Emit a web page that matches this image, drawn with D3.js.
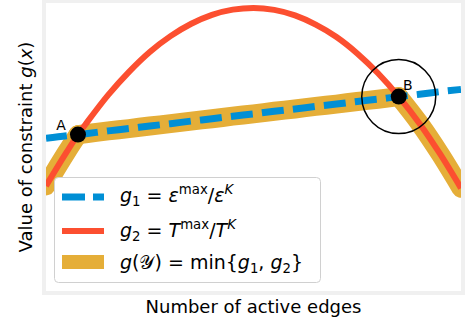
<!DOCTYPE html>
<html>
<head>
<meta charset="utf-8">
<script src="https://cdnjs.cloudflare.com/ajax/libs/d3/7.8.5/d3.min.js"></script>
<style>
  body { margin: 0; background: #fff; }
  svg { display: block; font-family: "DejaVu Sans", sans-serif; }
  text { white-space: pre; }
</style>
</head>
<body>
<div id="chart"></div>
<script>
// number of active edges (no units shown), A and B are at 0.77 and 8.5
var edges = [0, 0.5, 0.77, 1, 1.5, 2, 2.5, 3, 3.5, 4, 4.5, 5, 5.5, 6, 6.5, 7, 7.5, 8, 8.5, 9, 9.5, 10];
// g1 = eps_max / eps_K  (dashed blue)
var g1 = [5.30, 5.39, 5.43, 5.47, 5.56, 5.64, 5.73, 5.81, 5.90, 5.98, 6.07, 6.15, 6.24, 6.32, 6.41, 6.49, 6.58, 6.66, 6.75, 6.83, 6.92, 7.00];
// g2 = T_max / T_K  (red)
var g2 = [3.65, 4.83, 5.43, 5.88, 6.81, 7.61, 8.30, 8.85, 9.28, 9.59, 9.77, 9.83, 9.76, 9.57, 9.25, 8.82, 8.25, 7.56, 6.75, 5.82, 4.75, 3.57];
var marked = [{name: "A", i: 2}, {name: "B", i: 18}];

var width = 466, height = 327;
var box = {left: 46, right: 461, top: 3, bottom: 291};

var svg = d3.select("#chart").append("svg")
    .attr("width", width)
    .attr("height", height);

var x = d3.scaleLinear().domain([0, 10]).range([box.left, box.right]);
var y = d3.scaleLinear().domain([0, 10]).range([box.bottom, box.top]);

svg.append("defs").append("clipPath").attr("id", "plotclip")
  .append("rect")
    .attr("x", box.left).attr("y", box.top)
    .attr("width", box.right - box.left).attr("height", box.bottom - box.top);

var plot = svg.append("g").attr("clip-path", "url(#plotclip)");

var line = d3.line()
    .x(function(d) { return x(d.x); })
    .y(function(d) { return y(d.y); })
    .curve(d3.curveMonotoneX);

function pts(vals) {
  return edges.map(function(e, i) { return {x: e, y: vals[i]}; });
}

// lower envelope, split where the active constraint changes
var env = edges.map(function(e, i) {
  return {x: e, y: Math.min(g1[i], g2[i]), tie: g1[i] === g2[i]};
});
var runs = [], cur = [];
env.forEach(function(p) {
  cur.push(p);
  if (p.tie) { runs.push(cur); cur = [p]; }
});
runs.push(cur);

plot.selectAll(".env")
    .data(runs)
  .enter().append("path")
    .attr("class", "env")
    .attr("d", line)
    .style("fill", "none")
    .style("stroke", "#e5ae38")
    .style("stroke-width", 19)
    .style("stroke-linecap", "round");

plot.append("path")
    .attr("d", line(pts(g1)))
    .style("fill", "none")
    .style("stroke", "#008fd5")
    .style("stroke-width", 7)
    .style("stroke-dasharray", "22,9.2")
    .style("stroke-dashoffset", 1);

plot.append("path")
    .attr("d", line(pts(g2)))
    .style("fill", "none")
    .style("stroke", "#fc4f30")
    .style("stroke-width", 6);

// frame
svg.append("rect")
    .attr("x", box.left - 2).attr("y", box.top - 2)
    .attr("width", box.right - box.left + 4).attr("height", box.bottom - box.top + 4)
    .style("fill", "none")
    .style("stroke", "#f0f0f0")
    .style("stroke-width", 4);

// intersection points
svg.selectAll(".pt")
    .data(marked)
  .enter().append("circle")
    .attr("cx", function(d) { return x(edges[d.i]); })
    .attr("cy", function(d) { return y(g1[d.i]); })
    .attr("r", 8)
    .style("fill", "#000");

svg.append("circle")
    .attr("cx", x(edges[18]))
    .attr("cy", y(g1[18]))
    .attr("r", 37)
    .style("fill", "none")
    .style("stroke", "#000")
    .style("stroke-width", 1.5);

svg.selectAll(".lbl")
    .data(marked)
  .enter().append("text")
    .attr("x", function(d) { return x(edges[d.i]) + (d.name == "A" ? -17 : 9); })
    .attr("y", function(d) { return y(g1[d.i]) + (d.name == "A" ? -5 : -7); })
    .attr("text-anchor", "middle")
    .style("font-size", "14px")
    .text(function(d) { return d.name; });

// mathtext-ish labels
function mathText(sel, parts, size) {
  var shift = 0;
  parts.forEach(function(p) {
    var t = sel.append("tspan").text(p[0]);
    var want = 0;
    if (p[1].indexOf("sub") >= 0) want = 0.2 * size;
    if (p[1].indexOf("sup") >= 0) want = -0.42 * size;
    t.attr("dy", want - shift);
    shift = want;
    if (p[1].indexOf("it") >= 0) t.style("font-style", "italic");
    if (want !== 0) t.style("font-size", (size * 0.7) + "px");
  });
}

svg.append("text")
    .attr("x", (box.left + box.right) / 2)
    .attr("y", 313)
    .attr("text-anchor", "middle")
    .style("font-size", "18px")
    .text("Number of active edges");

var yl = svg.append("text")
    .attr("transform", "translate(32," + ((box.top + box.bottom) / 2) + ") rotate(-90)")
    .attr("text-anchor", "middle")
    .style("font-size", "18px");
mathText(yl, [["Value of constraint ", ""], ["g", "it"], ["(", ""], ["x", "it"], [")", ""]], 18);

// legend
var legendRows = [
  {type: "dash", color: "#008fd5", w: 7, parts: [["g", "it"], ["1", "sub"], [" = ", ""], ["ε", "it"], ["max", "sup"], ["/", ""], ["ε", "it"], ["K", "sup it"]]},
  {type: "line", color: "#fc4f30", w: 6, parts: [["g", "it"], ["2", "sub"], [" = ", ""], ["T", "it"], ["max", "sup"], ["/", ""], ["T", "it"], ["K", "sup it"]]},
  {type: "line", color: "#e5ae38", w: 14, parts: [["g", "it"], ["(", ""], ["𝒴", ""], [") = min{", ""], ["g", "it"], ["1", "sub"], [", ", ""], ["g", "it"], ["2", "sub"], ["}", ""]]}
];
var rowY = [197, 231, 262];
var textY = [202, 237, 269];

var lg = svg.append("g");
lg.append("rect")
    .attr("x", 54.5).attr("y", 177.5)
    .attr("width", 266).attr("height", 105)
    .attr("rx", 4)
    .style("fill", "#fff")
    .style("stroke", "#d0d0d0")
    .style("stroke-width", 1);

legendRows.forEach(function(r, i) {
  lg.append("line")
      .attr("x1", 62).attr("x2", 104)
      .attr("y1", rowY[i]).attr("y2", rowY[i])
      .style("stroke", r.color)
      .style("stroke-width", r.w)
      .style("stroke-dasharray", r.type == "dash" ? "23,8" : null);
  var t = lg.append("text")
      .attr("x", 120).attr("y", textY[i])
      .style("font-size", "19px");
  mathText(t, r.parts, 19);
});
</script>
</body>
</html>
